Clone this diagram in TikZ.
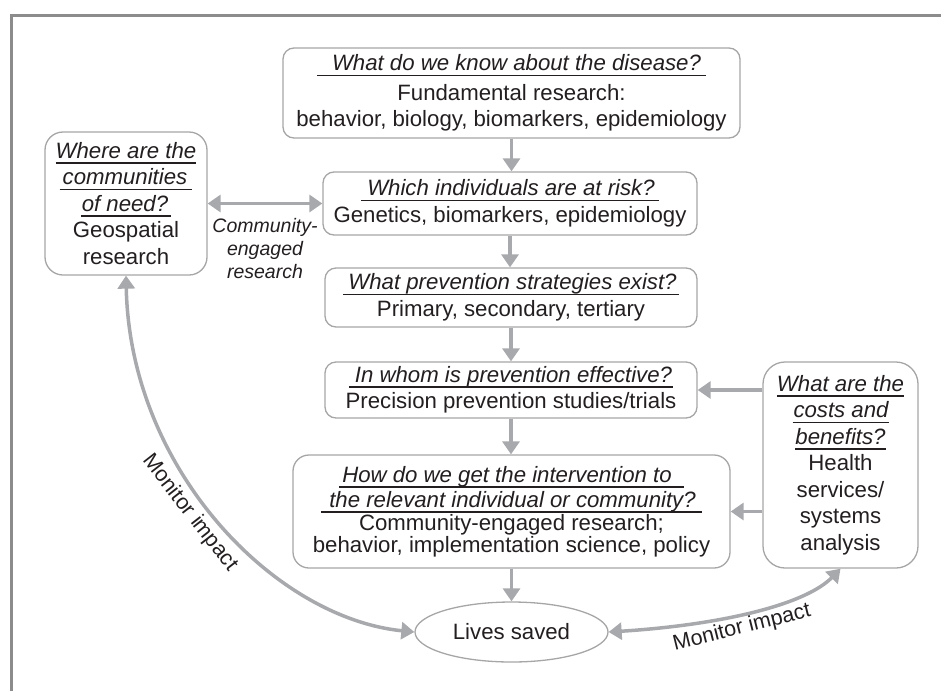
\documentclass[tikz,border=0pt]{standalone}
\usepackage{fontspec}
\setmainfont{Liberation Sans}
\usetikzlibrary{arrows.meta,shapes.geometric}
\definecolor{arr}{HTML}{A7A9AC}
\definecolor{bord}{HTML}{A6A6A6}
\definecolor{txt}{HTML}{231F20}
\definecolor{frm}{HTML}{8C8C8C}
\newcommand{\uq}[3]{{\setbox0\hbox{\hspace*{#1pt}\itshape #2\hspace*{#3pt}}\rlap{\rule[-5.5pt]{\wd0}{1.7pt}}\box0}}
\tikzset{
  qbox/.style={draw=bord, line width=1.3pt, rounded corners=11pt, fill=white, align=center,
    text=txt, font=\fontsize{22.2}{26.5}\selectfont, inner sep=0pt},
  flow/.style={draw=arr, line width=3.5pt, -{Triangle[length=13pt,width=17pt]}},
  both/.style={draw=arr, line width=3.5pt, {Triangle[length=13pt,width=17pt]}-{Triangle[length=13pt,width=17pt]}},
  lbl/.style={text=txt, font=\fontsize{21.5}{23}\selectfont, inner sep=0pt},
}
\begin{document}
\begin{tikzpicture}[x=1pt,y=-1pt]
\useasboundingbox (0,0) rectangle (941,691);
\draw[frm, line width=3pt] (11,691) -- (11,15) -- (941,15);

\node[qbox, minimum width=457pt, minimum height=90pt] (q1) at (511.5,93)
  {\uq{15}{What do we know about the disease?}{5}\\[3pt] Fundamental research:\\ behavior, biology, biomarkers, epidemiology};
\node[qbox, minimum width=374pt, minimum height=63pt] (q2) at (510,203.5)
  {\uq{6}{Which individuals are at risk?}{4}\\ Genetics, biomarkers, epidemiology};
\node[qbox, minimum width=372pt, minimum height=59pt] (q3) at (511,297.5)
  {\uq{5}{What prevention strategies exist?}{2}\\ Primary, secondary, tertiary};
\node[qbox, minimum width=372pt, minimum height=56pt] (q4) at (511,390)
  {\uq{6}{In whom is prevention effective?}{1}\\ Precision prevention studies/trials};
\node[qbox, minimum width=437pt, minimum height=113pt, rounded corners=16pt, font=\fontsize{22.2}{22.5}\selectfont] (q5) at (511.5,511.5)
  {\uq{3}{How do we get the intervention to}{12}\\[2.5pt] \uq{8}{the relevant individual or community?}{6}\\[0.5pt] Community-engaged research;\\ behavior, implementation science, policy};
\node[qbox, minimum width=162pt, minimum height=143pt, rounded corners=18pt] (lb) at (126,203.5)
  {\uq{0}{Where are the}{0}\\ \uq{3}{communities}{5}\\ \uq{1}{of need?}{3}\\ Geospatial\\ research};
\node[qbox, minimum width=155pt, minimum height=206pt, rounded corners=22pt] (rb) at (840.5,465)
  {\uq{0}{What are the}{0}\\ \uq{1}{costs and}{0}\\ \uq{0}{benefits?}{0}\\ Health\\ services/\\ systems\\ analysis};
\node[draw=bord, line width=1.3pt, ellipse, minimum width=193pt, minimum height=60pt, inner sep=0pt,
  fill=white, text=txt, font=\fontsize{22.2}{26.5}\selectfont] (ls) at (511.5,632) {Lives saved};

\draw[flow] (q1.south) -- (q1.south |- q2.north);
\draw[flow] (q2.south) -- (q2.south |- q3.north);
\draw[flow] (q3.south) -- (q3.south |- q4.north);
\draw[flow] (q4.south) -- (q4.south |- q5.north);
\draw[flow] (q5.south) -- (q5.south |- ls.north);
\draw[both] (lb.east) -- (lb.east -| q2.west);
\draw[flow] (rb.west |- q4.east) -- (q4.east);
\draw[flow] (rb.west |- q5.east) -- (q5.east);
\draw[both] (lb.south) .. controls (130,470) and (275,618) .. (ls.west);
\draw[both] (ls.east) .. controls (720,625) and (805,605) .. (rb.south);

\node[lbl, align=center, font=\fontsize{19.5}{23}\selectfont\itshape] (ce) at (265,249) {Community-\\engaged\\research};
\node[lbl, rotate=-52] (mi1) at (190,513) {Monitor impact};
\node[lbl, rotate=14] (mi2) at (742,628) {Monitor impact};
\end{tikzpicture}
\end{document}
